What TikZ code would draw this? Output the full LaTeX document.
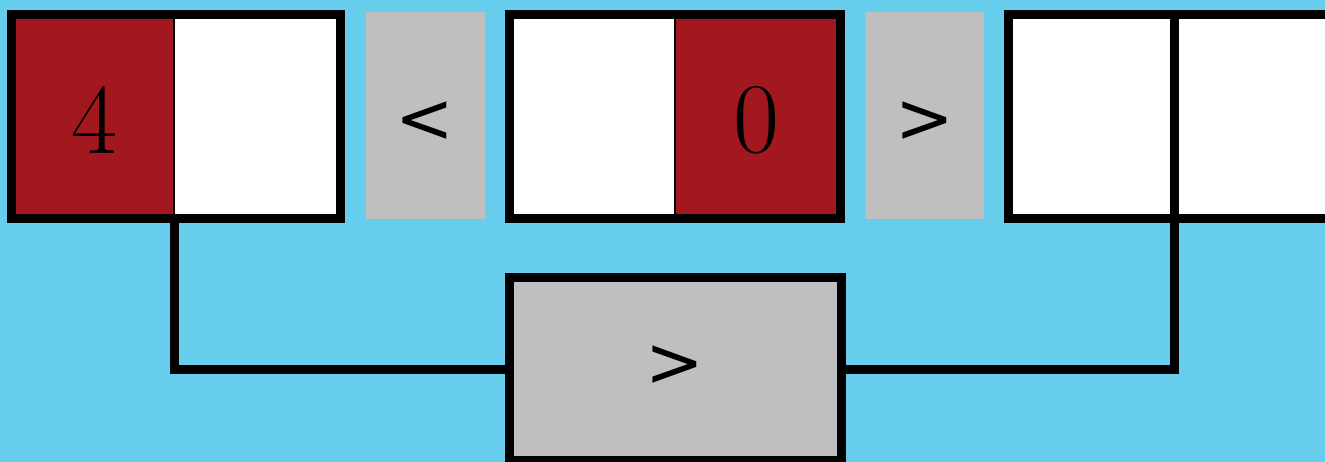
\documentclass[tikz,border=0pt]{standalone}
\usepackage{fontspec}
\newfontfamily\opfont{DejaVu Sans}
\definecolor{bgblue}{HTML}{66CEEC}
\definecolor{cred}{HTML}{A3181F}
\definecolor{cgray}{HTML}{BFBFBF}
\begin{document}
\begin{tikzpicture}[x=1pt,y=-1pt,
  cell/.style={inner sep=0pt,outer sep=0pt,draw=none},
  frame/.style={inner sep=0pt,outer sep=0pt,draw=black,line width=9pt},
  op/.style={inner sep=0pt,outer sep=0pt,fill=cgray},
  opsym/.style={inner sep=0pt,outer sep=0pt,font=\opfont\fontsize{70}{70}\selectfont},
  lbl/.style={inner sep=0pt,outer sep=0pt,font=\fontsize{100}{100}\selectfont},
  wire/.style={draw=black,line width=9pt}]
\useasboundingbox (0,0) rectangle (1325,462);
\fill[bgblue] (0,0) rectangle (1325,462);
\clip (0,0) rectangle (1325,462);
% box 1
\node[cell,fill=cred,minimum width=162.5pt,minimum height=204.5pt] (a1) at (92.75,116.75) {};
\node[cell,fill=white,minimum width=166.5pt,minimum height=204.5pt] (a2) at (257.25,116.75) {};
\node[frame,minimum width=329pt,minimum height=204.5pt] (b1) at (176,116.75) {};
\draw[line width=1.5pt] (a1.north east) -- (a1.south east);
\node[lbl] (t4) at (94,120) {4};
% operator <
\node[op,minimum width=119pt,minimum height=207pt] (lt) at (425.5,115.5) {};
\node[opsym] (tlt) at (425,122) {<};
% box 2
\node[cell,fill=white,minimum width=165.5pt,minimum height=204.5pt] (c1) at (592.25,116.75) {};
\node[cell,fill=cred,minimum width=165.5pt,minimum height=204.5pt] (c2) at (757.75,116.75) {};
\node[frame,minimum width=331pt,minimum height=204.5pt] (b2) at (675,116.75) {};
\draw[line width=1.5pt] (c1.north east) -- (c1.south east);
\node[lbl] (t0) at (756,120) {0};
% operator >
\node[op,minimum width=119pt,minimum height=207pt] (gt) at (924.5,115.5) {};
\node[opsym] (tgt) at (924.5,122) {>};
% box 3
\node[cell,fill=white,minimum width=166pt,minimum height=204.5pt] (d1) at (1091.5,116.75) {};
\node[cell,fill=white,minimum width=170pt,minimum height=204.5pt] (d2) at (1259.5,116.75) {};
\node[frame,minimum width=340pt,minimum height=204.5pt] (b3) at (1178.5,116.75) {};
\draw[line width=9pt] (d1.north east) -- (d1.south east);
% bottom comparator
\node[frame,fill=cgray,minimum width=332pt,minimum height=183pt] (g) at (675.5,369) {};
\node[opsym] (tg) at (675,366) {>};
% wires
\draw[wire] (a1.south east) |- (g.west);
\draw[wire] (g.east) -| (d1.south east);
\end{tikzpicture}
\end{document}
